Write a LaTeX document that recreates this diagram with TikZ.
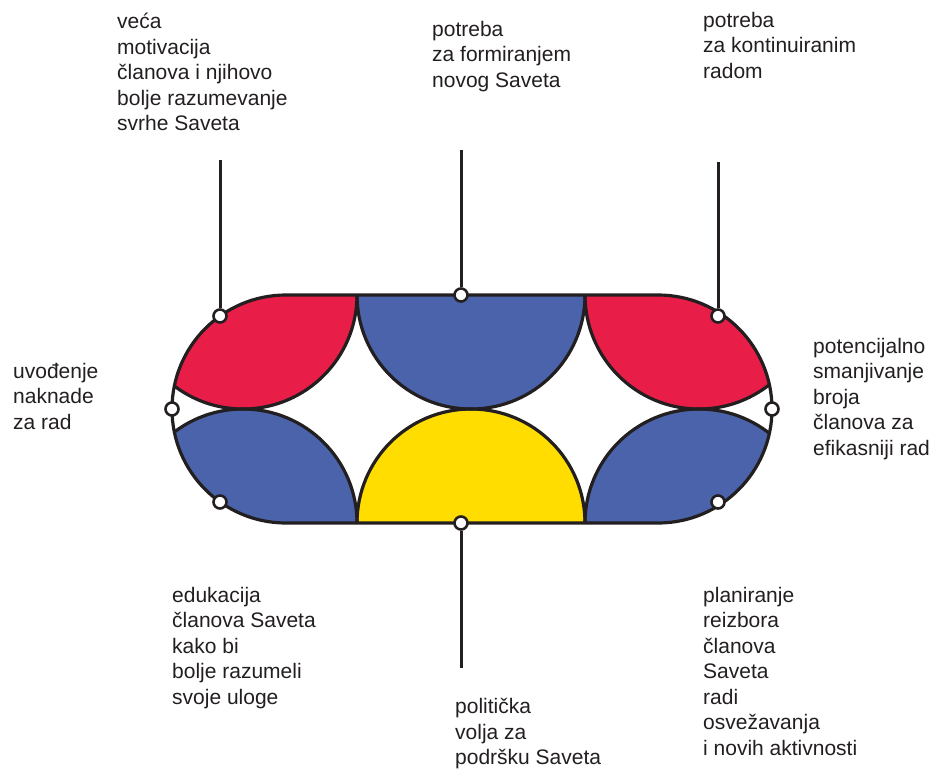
\documentclass[tikz,border=0pt]{standalone}
\usepackage{fontspec}
\setmainfont{Liberation Sans}
\definecolor{cred}{RGB}{232,30,72}
\definecolor{cblue}{RGB}{74,99,170}
\definecolor{cyel}{RGB}{255,221,0}
\definecolor{cink}{RGB}{35,31,32}
\tikzset{
  ink/.style={draw=cink, line width=3.2pt},
  marker/.style={circle, draw=cink, fill=white, line width=2.6pt, minimum size=13pt, inner sep=0pt},
  conn/.style={draw=cink, line width=3pt},
  lbl/.style={anchor=north west, align=left, inner sep=0pt, text=cink, font=\fontsize{21}{25.5}\selectfont},
}
\begin{document}
\begin{tikzpicture}[x=1pt,y=-1pt]
\useasboundingbox[fill=white] (0,0) rectangle (936,769);
\def\stadium{(286,295) -- (658,295) arc[start angle=90, end angle=-90, radius=114pt] -- (286,523) arc[start angle=270, end angle=90, radius=114pt] -- cycle}
\begin{scope}
  \clip \stadium;
  \fill[cred]  (243,295) circle (114pt);
  \fill[cblue] (243,523) circle (114pt);
  \fill[cblue] (471,295) circle (114pt);
  \fill[cyel]  (471,523) circle (114pt);
  \fill[cred]  (699,295) circle (114pt);
  \fill[cblue] (699,523) circle (114pt);
  \foreach \p in {(243,295),(243,523),(471,295),(471,523),(699,295),(699,523)}
    \draw[ink] \p circle (114pt);
\end{scope}
\draw[ink] \stadium;
% markers
\node[marker] (m1) at (220,316) {};
\node[marker] (m2) at (461,295) {};
\node[marker] (m3) at (718,316) {};
\node[marker] (m4) at (172,409) {};
\node[marker] (m5) at (772,409) {};
\node[marker] (m6) at (220,502) {};
\node[marker] (m7) at (461,523) {};
\node[marker] (m8) at (718,502) {};
% connector ends
\coordinate (e1) at (220,160);
\coordinate (e2) at (461,150);
\coordinate (e3) at (718,162);
\coordinate (e7) at (461,668);
\draw[conn] (m1) -- (e1);
\draw[conn] (m2) -- (e2);
\draw[conn] (m3) -- (e3);
\draw[conn] (m7) -- (e7);
% labels
\node[lbl] (t1) at (117,13) {veća\\motivacija\\članova i njihovo\\bolje razumevanje\\svrhe Saveta};
\node[lbl] (t2) at (432,21) {potreba\\za formiranjem\\novog Saveta};
\node[lbl] (t3) at (703,12) {potreba\\za kontinuiranim\\radom};
\node[lbl] (t4) at (13,363) {uvođenje\\naknade\\za rad};
\node[lbl] (t5) at (813,338) {potencijalno\\smanjivanje\\broja\\članova za\\efikasniji rad};
\node[lbl] (t6) at (172,587) {edukacija\\članova Saveta\\kako bi\\bolje razumeli\\svoje uloge};
\node[lbl] (t7) at (455,698) {politička\\volja za\\podršku Saveta};
\node[lbl] (t8) at (703,587) {planiranje\\reizbora\\članova\\Saveta\\radi\\osvežavanja\\i novih aktivnosti};
\end{tikzpicture}
\end{document}
